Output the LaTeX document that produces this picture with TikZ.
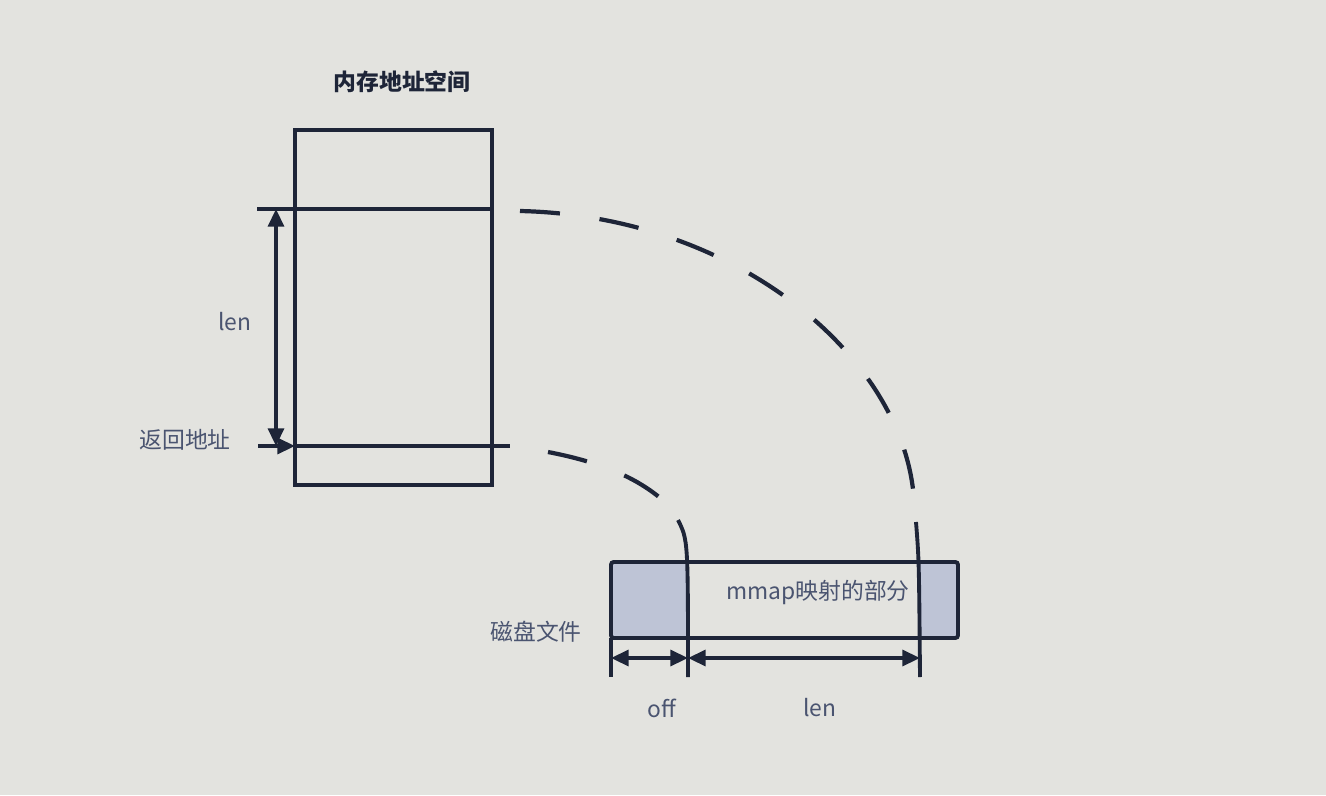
\documentclass[tikz,border=0pt]{standalone}
\usepackage{fontspec}
\setmainfont{Noto Sans CJK SC}
\usetikzlibrary{positioning,arrows.meta,calc}

\definecolor{ink}{HTML}{1E2538}
\definecolor{txt}{HTML}{4A5470}
\definecolor{mapfill}{HTML}{BEC4D6}
\definecolor{paper}{HTML}{E3E3DF}

\tikzset{
  frame/.style={draw=ink, line width=2.2pt},
  dim/.style={draw=ink, line width=2pt, {Triangle[length=10pt,width=9pt]}-{Triangle[length=10pt,width=9pt]}},
  ptr/.style={draw=ink, line width=2pt, -{Triangle[length=10pt,width=9pt]}},
  trace/.style={draw=ink, line width=2.4pt, dash pattern=on 0.8cm off 0.8cm},
  lbl/.style={text=txt, font=\fontsize{13}{15}\selectfont, inner sep=0pt},
}

\begin{document}
\begin{tikzpicture}[x=0.02cm,y=-0.02cm]

  \fill[paper] (0,0) rectangle (1326,795);
  \useasboundingbox (0,0) rectangle (1326,795);

  % memory address space
  \node[lbl, text=ink, font=\fontsize{13}{15}\selectfont\bfseries] (title) at (402,82) {内存地址空间};
  \draw[frame] (295,130) rectangle (492,485);

  \coordinate (mTopL) at (257,209);
  \coordinate (mTopR) at (492,209);
  \coordinate (mBotL) at (258,446);
  \coordinate (mBotE) at (295,446);
  \coordinate (mBotR) at (510,446);
  \coordinate (lenA) at (276,209);
  \coordinate (lenB) at (276,446);

  \draw[frame] (mTopL) -- (mTopR);
  \draw[frame] (mBotE) -- (mBotR);
  \draw[ptr] (mBotL) -- (mBotE);
  \draw[dim] (lenA) -- (lenB);

  \node[lbl] (memlen) at (235,322) {len};
  \node[lbl] (ret) at (185,440) {返回地址};

  % disk file
  \fill[mapfill] (611,562) rectangle (688,638);
  \fill[mapfill] (920,562) rectangle (958,638);
  \draw[frame, rounded corners=1.5pt] (611,562) rectangle (958,638);
  \node[lbl] (part) at (818,592) {mmap映射的部分};
  \node[lbl] (disk) at (536,632) {磁盘文件};

  \coordinate (offL) at (611,677);
  \coordinate (offR) at (688,677);
  \coordinate (lenR) at (920,677);

  \draw[frame] (611,638) -- (offL);
  \draw[dim] (611,658) -- (688,658);
  \draw[dim] (688,658) -- (920,658);

  \node[lbl] (off) at (662,708) {off};
  \node[lbl] (filelen) at (820,708) {len};

  % mapping
  \draw[trace] (520,211) .. controls (740,216) and (905,360) .. (914,500);
  \draw[frame] (916,522) .. controls (919,560) .. (lenR);
  \draw[trace] (548,452) .. controls (600,462) and (640,478) .. (668,505);
  \draw[frame] (678,520) .. controls (688,540) .. (offR);

\end{tikzpicture}
\end{document}
